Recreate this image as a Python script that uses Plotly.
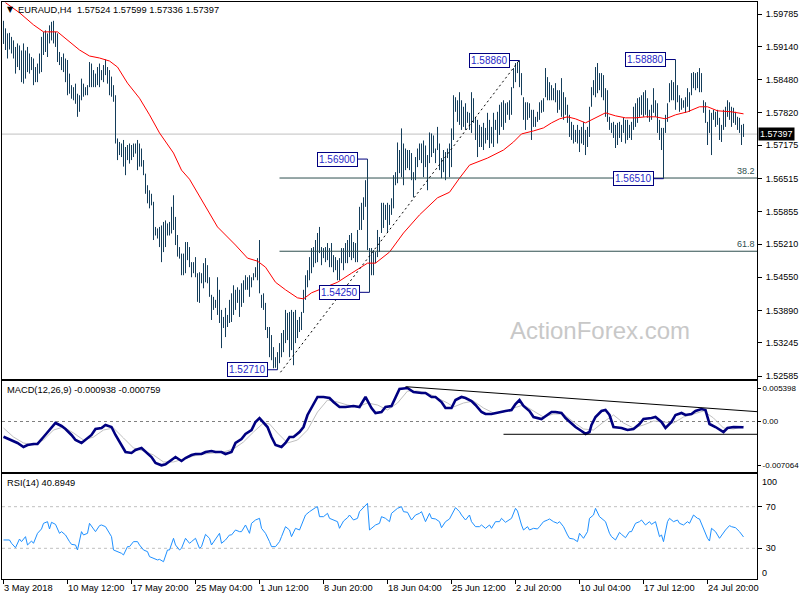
import plotly.graph_objects as go

# ---------------- data ----------------
header_text = "EURAUD,H4  1.57524 1.57599 1.57336 1.57397"
last_close = 1.57397

highs = [
 1.5965, 1.5950, 1.5940, 1.5941, 1.5933, 1.5926, 1.5913, 1.5920, 1.5916, 1.5906,
 1.5920, 1.5906, 1.5913, 1.5900, 1.5893, 1.5890, 1.5873, 1.5880, 1.5900, 1.5933,
 1.5943, 1.5946, 1.5940, 1.5956, 1.5963, 1.5965, 1.5943, 1.5940, 1.5903, 1.5893,
 1.5900, 1.5890, 1.5887, 1.5860, 1.5837, 1.5833, 1.5840, 1.5820, 1.5817, 1.5850,
 1.5840, 1.5833, 1.5837, 1.5883, 1.5880, 1.5867, 1.5860, 1.5873, 1.5880, 1.5867,
 1.5877, 1.5888, 1.5873, 1.5867, 1.5854, 1.5837, 1.5817, 1.5731, 1.5724, 1.5721,
 1.5728, 1.5714, 1.5718, 1.5721, 1.5718, 1.5721, 1.5721, 1.5728, 1.5721, 1.5711,
 1.5688, 1.5661, 1.5638, 1.5628, 1.5621, 1.5605, 1.5555, 1.5552, 1.5555, 1.5558,
 1.5565, 1.5568, 1.5562, 1.5565, 1.5595, 1.5618, 1.5575, 1.5539, 1.5515, 1.5502,
 1.5502, 1.5525, 1.5525, 1.5515, 1.5485, 1.5485, 1.5495, 1.5463, 1.5465, 1.5463,
 1.5483, 1.5493, 1.5479, 1.5455, 1.5420, 1.5416, 1.5410, 1.5455, 1.5430, 1.5390,
 1.5376, 1.5394, 1.5380, 1.5410, 1.5423, 1.5439, 1.5430, 1.5435, 1.5430, 1.5443,
 1.5449, 1.5459, 1.5455, 1.5459, 1.5455, 1.5463, 1.5475, 1.5493, 1.5529, 1.5420,
 1.5423, 1.5404, 1.5356, 1.5356, 1.5340, 1.5316, 1.5296, 1.5306, 1.5324, 1.5344,
 1.5350, 1.5390, 1.5384, 1.5386, 1.5390, 1.5386, 1.5390, 1.5370, 1.5376, 1.5386,
 1.5430, 1.5459, 1.5469, 1.5495, 1.5513, 1.5515, 1.5529, 1.5543, 1.5555, 1.5515,
 1.5513, 1.5515, 1.5523, 1.5513, 1.5523, 1.5499, 1.5495, 1.5489, 1.5493, 1.5513,
 1.5513, 1.5523, 1.5529, 1.5539, 1.5543, 1.5525, 1.5523, 1.5549, 1.5595, 1.5603,
 1.5614, 1.5648, 1.5690, 1.5513, 1.5513, 1.5509, 1.5505, 1.5549, 1.5535, 1.5603,
 1.5603, 1.5599, 1.5603, 1.5599, 1.5612, 1.5658, 1.5664, 1.5723, 1.5708, 1.5751,
 1.5721, 1.5711, 1.5708, 1.5708, 1.5702, 1.5664, 1.5694, 1.5711, 1.5721, 1.5721,
 1.5727, 1.5717, 1.5698, 1.5743, 1.5741, 1.5737, 1.5711, 1.5754, 1.5721, 1.5692,
 1.5708, 1.5704, 1.5711, 1.5721, 1.5751, 1.5817, 1.5813, 1.5807, 1.5823, 1.5807,
 1.5794, 1.5801, 1.5784, 1.5782, 1.5823, 1.5811, 1.5774, 1.5768, 1.5758, 1.5754,
 1.5762, 1.5752, 1.5782, 1.5768, 1.5754, 1.5782, 1.5768, 1.5784, 1.5798, 1.5803,
 1.5807, 1.5801, 1.5803, 1.5807, 1.5833, 1.5871, 1.5881, 1.5883, 1.5886, 1.5861,
 1.5813, 1.5803, 1.5803, 1.5801, 1.5788, 1.5788, 1.5774, 1.5784, 1.5803, 1.5807,
 1.5811, 1.5871, 1.5853, 1.5843, 1.5837, 1.5831, 1.5841, 1.5827, 1.5827, 1.5851,
 1.5823, 1.5813, 1.5798, 1.5778, 1.5764, 1.5758, 1.5748, 1.5758, 1.5748, 1.5754,
 1.5764, 1.5748, 1.5754, 1.5794, 1.5833, 1.5847, 1.5873, 1.5881, 1.5861, 1.5861,
 1.5857, 1.5831, 1.5827, 1.5774, 1.5762, 1.5764, 1.5758, 1.5762, 1.5764, 1.5758,
 1.5772, 1.5768, 1.5768, 1.5758, 1.5764, 1.5794, 1.5801, 1.5811, 1.5813, 1.5817,
 1.5823, 1.5827, 1.5811, 1.5788, 1.5798, 1.5831, 1.5807, 1.5801, 1.5768, 1.5752,
 1.5752, 1.5778, 1.5801, 1.5841, 1.5847, 1.5843, 1.5888, 1.5837, 1.5817, 1.5811,
 1.5807, 1.5813, 1.5831, 1.5823, 1.5861, 1.5863, 1.5861, 1.5863, 1.5871, 1.5861,
 1.5807, 1.5803, 1.5764, 1.5788, 1.5782, 1.5788, 1.5784, 1.5788, 1.5772, 1.5758,
 1.5788, 1.5794, 1.5807, 1.5803, 1.5794, 1.5792, 1.5784, 1.5774, 1.5772, 1.5758,
 1.5760]

lows = [
 1.5919, 1.5907, 1.5890, 1.5908, 1.5900, 1.5890, 1.5860, 1.5873, 1.5867, 1.5843,
 1.5840, 1.5850, 1.5863, 1.5860, 1.5867, 1.5837, 1.5843, 1.5843, 1.5860, 1.5863,
 1.5897, 1.5903, 1.5893, 1.5920, 1.5926, 1.5920, 1.5913, 1.5883, 1.5877, 1.5867,
 1.5863, 1.5843, 1.5817, 1.5820, 1.5810, 1.5807, 1.5800, 1.5774, 1.5784, 1.5807,
 1.5814, 1.5817, 1.5817, 1.5833, 1.5833, 1.5833, 1.5833, 1.5837, 1.5833, 1.5847,
 1.5843, 1.5857, 1.5840, 1.5817, 1.5814, 1.5804, 1.5721, 1.5688, 1.5698, 1.5694,
 1.5675, 1.5658, 1.5688, 1.5681, 1.5688, 1.5694, 1.5701, 1.5668, 1.5675, 1.5675,
 1.5658, 1.5621, 1.5602, 1.5592, 1.5598, 1.5529, 1.5538, 1.5532, 1.5515, 1.5485,
 1.5505, 1.5515, 1.5538, 1.5538, 1.5542, 1.5549, 1.5519, 1.5496, 1.5492, 1.5459,
 1.5459, 1.5463, 1.5489, 1.5475, 1.5455, 1.5463, 1.5455, 1.5406, 1.5404, 1.5443,
 1.5433, 1.5445, 1.5443, 1.5416, 1.5370, 1.5390, 1.5394, 1.5380, 1.5364, 1.5314,
 1.5354, 1.5336, 1.5356, 1.5364, 1.5366, 1.5380, 1.5390, 1.5404, 1.5376, 1.5396,
 1.5404, 1.5430, 1.5430, 1.5416, 1.5435, 1.5449, 1.5455, 1.5449, 1.5423, 1.5394,
 1.5390, 1.5350, 1.5334, 1.5296, 1.5290, 1.5274, 1.5275, 1.5271, 1.5284, 1.5296,
 1.5306, 1.5324, 1.5330, 1.5296, 1.5310, 1.5280, 1.5324, 1.5334, 1.5346, 1.5350,
 1.5384, 1.5410, 1.5435, 1.5449, 1.5463, 1.5475, 1.5483, 1.5485, 1.5503, 1.5479,
 1.5493, 1.5485, 1.5489, 1.5475, 1.5475, 1.5465, 1.5469, 1.5449, 1.5449, 1.5483,
 1.5469, 1.5483, 1.5483, 1.5495, 1.5489, 1.5493, 1.5485, 1.5485, 1.5549, 1.5549,
 1.5569, 1.5595, 1.5509, 1.5425, 1.5459, 1.5459, 1.5483, 1.5495, 1.5505, 1.5543,
 1.5553, 1.5569, 1.5545, 1.5559, 1.5579, 1.5592, 1.5638, 1.5642, 1.5662, 1.5654,
 1.5638, 1.5668, 1.5672, 1.5668, 1.5648, 1.5614, 1.5648, 1.5674, 1.5688, 1.5682,
 1.5654, 1.5674, 1.5628, 1.5682, 1.5694, 1.5702, 1.5682, 1.5708, 1.5668, 1.5652,
 1.5664, 1.5648, 1.5692, 1.5654, 1.5674, 1.5728, 1.5784, 1.5764, 1.5758, 1.5748,
 1.5754, 1.5748, 1.5762, 1.5748, 1.5742, 1.5762, 1.5728, 1.5694, 1.5714, 1.5714,
 1.5708, 1.5721, 1.5728, 1.5712, 1.5721, 1.5714, 1.5748, 1.5721, 1.5738, 1.5754,
 1.5748, 1.5762, 1.5778, 1.5768, 1.5778, 1.5831, 1.5843, 1.5861, 1.5833, 1.5817,
 1.5768, 1.5748, 1.5768, 1.5772, 1.5728, 1.5754, 1.5754, 1.5764, 1.5768, 1.5782,
 1.5784, 1.5813, 1.5807, 1.5807, 1.5807, 1.5807, 1.5803, 1.5782, 1.5788, 1.5774,
 1.5768, 1.5778, 1.5762, 1.5734, 1.5728, 1.5721, 1.5724, 1.5721, 1.5704, 1.5721,
 1.5718, 1.5698, 1.5714, 1.5734, 1.5794, 1.5817, 1.5813, 1.5821, 1.5827, 1.5813,
 1.5807, 1.5774, 1.5764, 1.5748, 1.5742, 1.5732, 1.5712, 1.5718, 1.5732, 1.5724,
 1.5742, 1.5721, 1.5728, 1.5732, 1.5728, 1.5748, 1.5754, 1.5762, 1.5774, 1.5778,
 1.5774, 1.5778, 1.5772, 1.5764, 1.5768, 1.5782, 1.5774, 1.5742, 1.5728, 1.5708,
 1.5651, 1.5742, 1.5764, 1.5803, 1.5807, 1.5807, 1.5788, 1.5803, 1.5784, 1.5788,
 1.5792, 1.5782, 1.5794, 1.5784, 1.5817, 1.5831, 1.5827, 1.5831, 1.5823, 1.5823,
 1.5782, 1.5762, 1.5718, 1.5742, 1.5698, 1.5768, 1.5754, 1.5758, 1.5728, 1.5724,
 1.5748, 1.5754, 1.5774, 1.5768, 1.5754, 1.5762, 1.5758, 1.5748, 1.5742, 1.5718,
 1.5734]

# moving average (red), sampled at bar indices
ma_pts = [(1,1.6001),(8,1.5981),(15,1.5957),(20,1.5943),(27,1.5943),(32,1.5927),(38,1.5907),
 (43,1.5895),(48,1.5891),(53,1.5885),(57,1.5873),(62,1.5841),(68,1.5811),(73,1.5778),(78,1.5742),
 (85,1.5702),(89,1.5668),(93,1.5650),(99,1.5609),(107,1.5555),(116,1.5519),(122,1.5493),(127,1.5487),
 (131,1.5475),(136,1.5445),(141,1.5430),(147,1.5414),(150,1.5412),(154,1.5424),(161,1.5435),
 (167,1.5445),(174,1.5463),(179,1.5475),(182,1.5483),(186,1.5483),(188,1.5489),(193,1.5505),
 (200,1.5543),(208,1.5579),(217,1.5613),(223,1.5624),(228,1.5652),(233,1.5678),(242,1.5692),
 (250,1.5708),(255,1.5724),(259,1.5740),(265,1.5746),(270,1.5752),(274,1.5762),(278,1.5770),
 (282,1.5774),(286,1.5770),(291,1.5762),(296,1.5772),(301,1.5782),(306,1.5776),(311,1.5772),
 (316,1.5772),(321,1.5774),(326,1.5774),(331,1.5770),(336,1.5778),(342,1.5784),(348,1.5794),
 (352,1.5794),(357,1.5786),(364,1.5784),(370,1.5780)]

macd_pts = [(0,-0.00245),(4,-0.00298),(7,-0.00346),(10,-0.00411),(12,-0.00379),(15,-0.00362),
 (17,-0.00362),(20,-0.00250),(24,-0.00089),(26,-0.00024),(29,-0.00072),(31,-0.00121),(34,-0.00217),
 (36,-0.00298),(39,-0.00346),(41,-0.00298),(44,-0.00217),(46,-0.00121),(49,-0.00105),(51,-0.00056),
 (54,-0.00089),(56,-0.00217),(59,-0.00379),(61,-0.00491),(64,-0.00507),(66,-0.00459),(69,-0.00427),
 (71,-0.00491),(74,-0.00572),(76,-0.00669),(79,-0.00706),(81,-0.00690),(84,-0.00620),(86,-0.00572),
 (89,-0.00636),(91,-0.00588),(94,-0.00540),(96,-0.00524),(99,-0.00524),(101,-0.00491),(104,-0.00475),
 (106,-0.00491),(109,-0.00491),(111,-0.00524),(114,-0.00491),(116,-0.00346),(119,-0.00282),
 (121,-0.00201),(124,-0.00137),(126,-0.00008),(128,0.00056),(130,-0.00008),(132,-0.00089),
 (134,-0.00250),(136,-0.00379),(139,-0.00411),(141,-0.00346),(143,-0.00250),(145,-0.00250),
 (148,-0.00169),(150,-0.00089),(152,0.00105),(155,0.00266),(157,0.00395),(160,0.00395),
 (163,0.00379),(165,0.00314),(168,0.00234),(171,0.00234),(175,0.00250),(178,0.00234),(181,0.00395),
 (184,0.00217),(186,0.00137),(189,0.00153),(191,0.00234),(194,0.00250),(196,0.00395),(198,0.00525),
 (202,0.00540),(205,0.00475),(209,0.00459),(211,0.00459),(214,0.00395),(216,0.00395),(219,0.00314),
 (221,0.00217),(224,0.00217),(226,0.00346),(229,0.00395),(231,0.00379),(234,0.00330),(236,0.00266),
 (239,0.00153),(241,0.00121),(244,0.00121),(246,0.00137),(249,0.00153),(251,0.00169),(254,0.00185),
 (256,0.00282),(258,0.00346),(260,0.00250),(263,0.00169),(265,0.00072),(269,0.00040),(271,0.00089),
 (274,0.00153),(276,0.00153),(279,0.00137),(281,0.00056),(284,-0.00024),(286,-0.00089),
 (289,-0.00153),(291,-0.00200),(293,-0.00169),(294,-0.00056),(296,0.00072),(299,0.00169),
 (301,0.00185),(303,0.00105),(305,-0.00089),(309,-0.00105),(312,-0.00137),(315,-0.00121),
 (318,-0.00040),(320,0.00040),(324,0.00056),(326,0.00072),(329,-0.00008),(331,-0.00105),
 (334,-0.00008),(336,0.00105),(339,0.00137),(341,0.00105),(344,0.00121),(346,0.00169),
 (349,0.00201),(351,0.00185),(353,-0.00040),(356,-0.00089),(360,-0.00169),(362,-0.00105),
 (365,-0.00089),(367,-0.00089),(370,-0.000938)]

signal_pts = [(0,-0.00105),(5,-0.00250),(10,-0.00346),(15,-0.00379),(20,-0.00298),(25,-0.00137),
 (30,-0.00089),(35,-0.00185),(40,-0.00298),(45,-0.00250),(50,-0.00137),(55,-0.00105),(60,-0.00266),
 (65,-0.00427),(70,-0.00475),(75,-0.00540),(80,-0.00652),(85,-0.00652),(90,-0.00604),(95,-0.00556),
 (100,-0.00524),(105,-0.00507),(110,-0.00491),(115,-0.00443),(120,-0.00330),(125,-0.00169),
 (130,-0.00024),(133,-0.00040),(137,-0.00185),(142,-0.00346),(147,-0.00298),(152,-0.00137),
 (157,0.00153),(162,0.00346),(167,0.00314),(172,0.00266),(177,0.00234),(182,0.00298),(187,0.00266),
 (192,0.00185),(197,0.00298),(202,0.00490),(207,0.00491),(212,0.00459),(217,0.00379),(222,0.00298),
 (225,0.00234),(230,0.00298),(235,0.00330),(240,0.00217),(245,0.00137),(250,0.00153),(255,0.00217),
 (260,0.00266),(265,0.00169),(270,0.00072),(275,0.00121),(280,0.00121),(285,-0.00008),(290,-0.00121),
 (295,-0.00137),(300,-0.00008),(305,0.00105),(310,-0.00024),(315,-0.00105),(320,-0.00056),
 (325,0.00008),(330,-0.00008),(335,-0.00024),(340,0.00072),(345,0.00121),(350,0.00169),(355,0.00056),
 (360,-0.00105),(365,-0.00121),(370,-0.000759)]

rsi_pts = [(0,38.0),(3,38.0),(4,34.8),(6,30.6),(8,38.9),(9,36.4),(11,41.2),(12,33.2),(14,37.0),
 (15,34.8),(17,44.4),(19,48.6),(20,54.0),(22,55.6),(23,48.6),(24,55.0),(26,53.0),(28,44.4),(29,46.0),
 (31,42.8),(33,36.4),(34,33.8),(36,33.2),(37,28.4),(39,46.0),(40,42.8),(42,44.4),(43,54.0),(45,48.6),
 (46,46.0),(48,51.8),(49,52.4),(51,50.8),(53,44.4),(54,41.2),(55,28.4),(57,26.8),(59,25.2),(60,23.6),
 (62,31.6),(63,31.6),(65,36.4),(67,36.4),(68,33.2),(70,28.4),(72,26.8),(73,22.0),(75,20.4),(77,18.8),
 (78,19.4),(80,17.1),(82,28.4),(83,28.4),(85,39.6),(86,33.2),(88,28.4),(89,30.0),(91,39.6),(93,34.8),
 (94,36.4),(96,39.6),(98,30.0),(99,31.6),(101,43.4),(103,39.6),(104,33.2),(106,38.9),(108,44.4),
 (109,34.8),(111,38.0),(113,42.8),(114,42.8),(116,47.6),(118,46.0),(119,46.0),(121,52.4),(123,44.4),
 (124,54.0),(126,57.2),(128,58.8),(129,49.2),(131,44.4),(133,36.4),(134,31.6),(136,31.6),(138,36.4),
 (139,41.2),(141,50.8),(143,47.6),(144,41.2),(146,49.2),(148,47.6),(149,52.4),(151,62.0),(153,65.2),
 (154,66.8),(156,69.1),(157,70.0),(158,60.4),(160,60.4),(162,63.6),(163,58.8),(165,57.2),(167,55.6),
 (168,49.2),(170,56.2),(172,59.4),(173,62.0),(175,57.2),(177,58.8),(178,65.2),(182,73.2),(183,47.6),
 (184,49.2),(186,52.4),(188,54.0),(189,60.4),(191,58.8),(193,55.6),(194,63.6),(197,68.4),(199,70.0),
 (200,65.2),(202,64.6),(204,57.2),(206,62.0),(208,63.6),(209,65.2),(211,55.6),(213,63.6),(214,58.8),
 (216,58.2),(218,55.6),(219,49.8),(221,55.6),(223,58.2),(224,62.0),(226,69.1),(228,65.2),(229,62.0),
 (231,57.2),(233,62.0),(234,55.6),(236,50.8),(238,50.8),(239,52.4),(241,49.2),(243,52.4),(244,49.2),
 (246,55.6),(248,55.6),(249,58.8),(251,55.0),(253,57.2),(254,58.8),(256,68.4),(257,65.8),(259,52.4),
 (260,47.6),(262,50.8),(263,47.6),(265,49.2),(267,48.6),(268,50.8),(270,55.6),(272,57.2),(273,58.2),
 (275,55.6),(277,54.0),(278,55.6),(280,50.8),(282,42.8),(283,39.6),(285,38.9),(287,36.4),(288,44.4),
 (290,39.6),(292,46.0),(293,58.8),(295,62.0),(296,68.4),(298,60.4),(299,58.8),(301,55.6),(303,44.4),
 (304,41.2),(306,38.0),(308,45.3),(309,43.4),(311,40.2),(313,46.0),(314,46.0),(316,54.0),(318,55.6),
 (319,57.2),(321,52.4),(323,55.6),(324,53.0),(326,55.6),(328,41.2),(329,42.8),(330,36.4),(332,55.6),
 (333,58.8),(335,55.6),(337,57.2),(338,54.0),(340,52.4),(342,55.6),(343,54.0),(345,62.0),(347,58.8),
 (348,58.2),(350,49.2),(352,39.6),(353,37.0),(354,49.2),(356,46.0),(358,39.6),(361,47.6),(363,51.8),
 (364,50.8),(366,49.8),(368,46.0),(369,42.8),(370,40.8949)]

# swing labels: (bar index, price, text)
swing_labels = [(258, 1.58860, "1.58860"), (336, 1.58880, "1.58880"), (182, 1.56900, "1.56900"),
                (330, 1.56510, "1.56510"), (183, 1.54250, "1.54250"), (137, 1.52710, "1.52710")]
fib_low, fib_high = 1.52710, 1.58880
fib_ratios = [0.382, 0.618]
fib_start_idx = 138
trend_pts = [(138.5, 1.5266), (258, 1.5887)]
macd_trend_pts = [(201, 0.00561), (377, 0.00158)]
macd_support = (250, -0.00206)

price_ticks = ["1.59785", "1.59140", "1.58480", "1.57820", "1.57175", "1.56515",
               "1.55855", "1.55210", "1.54550", "1.53890", "1.53245", "1.52585"]
macd_ticks = [0.005398, 0.0, -0.007064]
macd_tick_text = ["0.005398", "0.00", "-0.007064"]
rsi_levels = [30, 70]

x_label_idx = [0, 32, 64, 96, 128, 160, 192, 224, 256, 288, 320, 352]
x_labels = ["3 May 2018", "10 May 12:00", "17 May 20:00", "25 May 04:00", "1 Jun 12:00",
            "8 Jun 20:00", "18 Jun 04:00", "25 Jun 12:00", "2 Jul 20:00", "10 Jul 04:00",
            "17 Jul 12:00", "24 Jul 20:00"]

# ---------------- layout helpers ----------------
W, H = 800, 600
ML, MR, MT, MB = 2, 43, 2, 21
PW, PH = W - ML - MR, H - MT - MB
def pxx(p):
    return (p - ML) / PW
def pxy(p):
    return (H - MB - p) / PH

FONT = "Liberation Sans, Arial, sans-serif"
TXT = 9.3
BAR_C = "#143D5A"
XR = [-0.75, -0.75 + PW / 2.0]

fig = go.Figure()
# high-low bars as 1px vertical segments
seg_x, seg_y = [], []
for i, (h, l) in enumerate(zip(highs, lows)):
    seg_x += [i, i, None]
    seg_y += [l, h, None]
fig.add_trace(go.Scatter(x=seg_x, y=seg_y, mode="lines", line=dict(color=BAR_C, width=1),
                         xaxis="x", yaxis="y", hoverinfo="skip", connectgaps=False))
fig.add_trace(go.Scatter(x=[p[0] for p in ma_pts], y=[p[1] for p in ma_pts], mode="lines",
                         line=dict(color="red", width=1), xaxis="x", yaxis="y", hoverinfo="skip"))
fig.add_trace(go.Scatter(x=[p[0] for p in signal_pts], y=[p[1] for p in signal_pts], mode="lines",
                         line=dict(color="#C0C0C0", width=1), xaxis="x2", yaxis="y2", hoverinfo="skip"))
fig.add_trace(go.Scatter(x=[p[0] for p in macd_pts], y=[p[1] for p in macd_pts], mode="lines",
                         line=dict(color="#000080", width=2.6), xaxis="x2", yaxis="y2", hoverinfo="skip"))
fig.add_trace(go.Scatter(x=[p[0] for p in rsi_pts], y=[p[1] for p in rsi_pts], mode="lines",
                         line=dict(color="#1E90FF", width=1), xaxis="x3", yaxis="y3", hoverinfo="skip"))

shapes = []
shapes.append(dict(type="line", xref="x", yref="y", x0=XR[0], x1=XR[1], y0=last_close, y1=last_close,
                   line=dict(color="#C0C0C0", width=1), layer="below"))
fib_levels = [fib_high - r * (fib_high - fib_low) for r in fib_ratios]
for lv in fib_levels:
    shapes.append(dict(type="line", xref="x", yref="y", x0=fib_start_idx, x1=XR[1], y0=lv, y1=lv,
                       line=dict(color="#2F4F4F", width=1)))
shapes.append(dict(type="line", xref="x", yref="y", x0=trend_pts[0][0], y0=trend_pts[0][1],
                   x1=trend_pts[1][0], y1=trend_pts[1][1], line=dict(color="black", width=1, dash="2px,3px")))
for bi, pr, tx in swing_labels:
    shapes.append(dict(type="line", xref="x", yref="y", x0=bi - 5, x1=bi, y0=pr, y1=pr,
                       line=dict(color="#000080", width=1)))
shapes.append(dict(type="line", xref="x2", yref="y2", x0=XR[0], x1=XR[1], y0=0, y1=0,
                   line=dict(color="#808080", width=1, dash="3px,3px"), layer="below"))
shapes.append(dict(type="line", xref="x2", yref="y2", x0=macd_trend_pts[0][0], y0=macd_trend_pts[0][1],
                   x1=macd_trend_pts[1][0], y1=macd_trend_pts[1][1], line=dict(color="black", width=1)))
shapes.append(dict(type="line", xref="x2", yref="y2", x0=macd_support[0], x1=XR[1],
                   y0=macd_support[1], y1=macd_support[1], line=dict(color="black", width=1)))
for lv in rsi_levels:
    shapes.append(dict(type="line", xref="x3", yref="y3", x0=XR[0], x1=XR[1], y0=lv, y1=lv,
                       line=dict(color="#C0C0C0", width=1, dash="3px,3px"), layer="below"))

ann = []
ann.append(dict(xref="paper", yref="paper", x=pxx(5), y=pxy(10), xanchor="left", yanchor="middle",
                text="▼", showarrow=False, font=dict(family="DejaVu Sans", size=8, color="black")))
ann.append(dict(xref="paper", yref="paper", x=pxx(16), y=pxy(10), xanchor="left", yanchor="middle",
                text=header_text.replace("  ", "&nbsp;&nbsp;"), showarrow=False,
                font=dict(family=FONT, size=TXT, color="black")))
ann.append(dict(xref="paper", yref="paper", x=pxx(5), y=pxy(390), xanchor="left", yanchor="middle",
                text="MACD(12,26,9) -0.000938 -0.000759", showarrow=False,
                font=dict(family=FONT, size=TXT, color="black")))
ann.append(dict(xref="paper", yref="paper", x=pxx(5), y=pxy(483), xanchor="left", yanchor="middle",
                text="RSI(14) 40.8949", showarrow=False, font=dict(family=FONT, size=TXT, color="black")))
ann.append(dict(xref="paper", yref="paper", x=pxx(600), y=pxy(330), xanchor="center", yanchor="middle",
                text="ActionForex.com", showarrow=False, font=dict(family=FONT, size=24, color="#C8C8C8")))
for lv, lab in zip(fib_levels, ["38.2", "61.8"]):
    ann.append(dict(xref="x", yref="y", x=XR[1], y=lv, xanchor="right", yanchor="bottom",
                    text=lab, showarrow=False, font=dict(family=FONT, size=9, color="#2F4F4F")))
for bi, pr, tx in swing_labels:
    ann.append(dict(xref="x", yref="y", x=bi - 5, y=pr, xanchor="right", yanchor="middle", text=tx,
                    showarrow=False, bgcolor="white", bordercolor="#000080", borderwidth=1, borderpad=1,
                    font=dict(family=FONT, size=10, color="#2828C8")))
ann.append(dict(xref="paper", yref="y", x=pxx(758), y=last_close, xanchor="left", yanchor="middle",
                text="1.57397", showarrow=False, bgcolor="black", borderpad=1,
                font=dict(family=FONT, size=9, color="white")))
ann.append(dict(xref="paper", yref="paper", x=pxx(760), y=pxy(481.5), xanchor="left", yanchor="middle",
                text="100", showarrow=False, font=dict(family=FONT, size=9, color="black")))
ann.append(dict(xref="paper", yref="paper", x=pxx(760), y=pxy(572.5), xanchor="left", yanchor="middle",
                text="0", showarrow=False, font=dict(family=FONT, size=9, color="black")))
for xi, lab in zip(x_label_idx, x_labels):
    ann.append(dict(xref="x3", yref="paper", x=xi - 0.75, y=pxy(581), xanchor="left", yanchor="top",
                    text=lab, showarrow=False, font=dict(family=FONT, size=TXT, color="black")))

common_x = dict(range=XR, showgrid=False, zeroline=False, showline=True, mirror=True,
                linecolor="black", linewidth=1, showticklabels=False, fixedrange=True, automargin=False)
common_y = dict(side="right", showgrid=False, zeroline=False, showline=True, mirror=True,
                linecolor="black", linewidth=1, ticks="outside", tickcolor="black",
                automargin=False)

fig.update_layout(
    width=W, height=H, margin=dict(l=ML, r=MR, t=MT, b=MB, autoexpand=False),
    paper_bgcolor="white", plot_bgcolor="white", showlegend=False,
    font=dict(family=FONT, size=9, color="black"),
    xaxis=dict(domain=[0, 1], anchor="y", ticks="", **common_x),
    xaxis2=dict(domain=[0, 1], anchor="y2", ticks="", **common_x),
    xaxis3=dict(domain=[0, 1], anchor="y3", ticks="outside", ticklen=4, tickcolor="black",
                tickvals=[i - 0.25 for i in x_label_idx], **common_x),
    yaxis=dict(domain=[pxy(379), 1], anchor="x", range=[1.52526, 1.60024],
               tickvals=[float(t) for t in price_ticks], ticktext=price_ticks, ticklen=4,
               ticklabelstandoff=2, tickfont=dict(family=FONT, size=9, color="black"), **common_y),
    yaxis2=dict(domain=[pxy(472), pxy(381)], anchor="x2", range=[-0.008137, 0.006526],
                tickvals=macd_ticks, ticktext=macd_tick_text, ticklen=3, ticklabelstandoff=0,
                tickfont=dict(family=FONT, size=8, color="black"), **common_y),
    yaxis3=dict(domain=[0, pxy(474)], anchor="x3", range=[0.5, 101.4],
                tickvals=rsi_levels, ticktext=[str(v) for v in rsi_levels], ticklen=4,
                ticklabelstandoff=2, tickfont=dict(family=FONT, size=9, color="black"), **common_y),
    shapes=shapes, annotations=ann,
)

fig.write_html("out.html", config={"displayModeBar": False},
               post_script="document.body.style.margin='0px';")
